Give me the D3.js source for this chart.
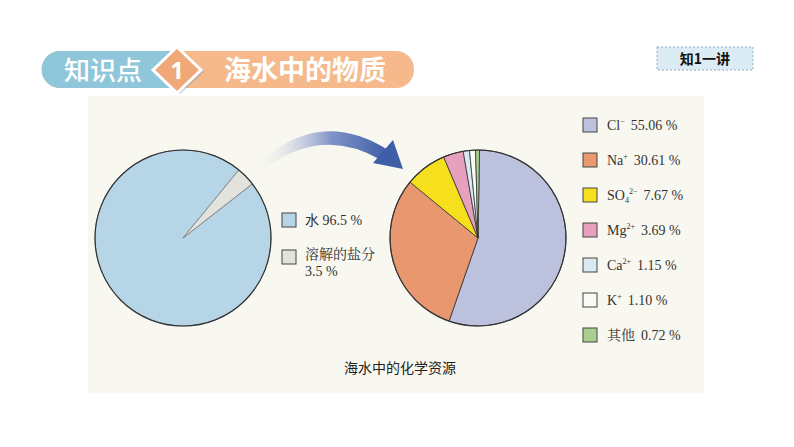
<!DOCTYPE html>
<meta charset="utf-8">
<html>
<head>
  <title>海水中的物质</title>
  <style type="text/css">
    body{margin:0; background:#fff;}
    svg{display:block;}
  </style>
</head>
<body>
  <script src="https://cdn.jsdelivr.net/npm/d3@7"></script>
  <script>
    // left pie: water vs dissolved salts
    var waterNames = ['水', '溶解的盐分'];
    var waterValues = [96.5, 3.5];
    var waterLabels = ['水 96.5 %', '溶解的盐分', '3.5 %'];
    var waterColors = ['#b6d6e8', '#e3e3de'];

    // right pie: ions
    var ionNames = ['Cl', 'Na', 'SO4', 'Mg', 'Ca', 'K', '其他'];
    var ionValues = [55.06, 30.61, 7.67, 3.69, 1.15, 1.10, 0.72];
    var ionColors = ['#bcc2de', '#e9976e', '#f6e01e', '#e7a0bd', '#d9e9f0', '#f9f9f6', '#a9d08f'];

    var width = 794,
        height = 447;

    var svg = d3.select('body')
        .append('svg')
        .attr('width', width)
        .attr('height', height);

    var defs = svg.append('defs');

    // panel
    svg.append('rect')
      .attr('x', 88).attr('y', 96)
      .attr('width', 616).attr('height', 297)
      .style('fill', '#f8f7f0');

    // ---- header ----
    var head = svg.append('g');
    head.append('rect')
      .attr('x', 42).attr('y', 51).attr('width', 372).attr('height', 37).attr('rx', 18)
      .style('fill', '#f5b98c');
    head.append('path')
      .attr('d', 'M60,51 H170 V88 H60 A18,18 0 0 1 60,51 Z')
      .style('fill', '#8fc6d9');
    head.append('path')
      .attr('d', 'M180,50 L204,72 L180,94 L156,72 Z')
      .style('fill', '#9aa0a6').style('opacity', 0.5);
    head.append('path')
      .attr('d', 'M177,47 L201,70 L177,93 L153,70 Z')
      .style('fill', '#f1a878').style('stroke', '#fff').style('stroke-width', 3);
    head.append('text')
      .attr('x', 177).attr('y', 79).attr('text-anchor', 'middle')
      .style('font', 'bold 24px "Noto Sans", sans-serif').style('fill', '#fff')
      .text('1');
    head.append('text')
      .attr('x', 103).attr('y', 80).attr('text-anchor', 'middle')
      .style('font', '500 26px "Noto Sans CJK SC", sans-serif').style('fill', '#fff')
      .text('知识点');
    head.append('text')
      .attr('x', 305).attr('y', 80).attr('text-anchor', 'middle')
      .style('font', 'bold 27px "Noto Sans CJK SC", sans-serif').style('fill', '#fff')
      .text('海水中的物质');

    svg.append('rect')
      .attr('x', 657).attr('y', 47).attr('width', 96).attr('height', 23)
      .style('fill', '#dcecf4').style('stroke', '#9ab').style('stroke-dasharray', '2,2');
    svg.append('text')
      .attr('x', 705).attr('y', 64).attr('text-anchor', 'middle')
      .style('font', 'bold 14px "Noto Sans CJK SC", sans-serif').style('fill', '#111')
      .text('知1一讲');

    // ---- pies ----
    var arc = d3.arc().innerRadius(0).outerRadius(88);

    var leftPie = d3.pie().sort(null)
      .startAngle(52 * Math.PI / 180)
      .endAngle(52 * Math.PI / 180 + 2 * Math.PI);

    var left = svg.append('g').attr('transform', 'translate(183,238)');
    left.selectAll('path')
      .data(leftPie(waterValues))
      .enter().append('path')
      .attr('d', arc)
      .style('fill', function(d, i){ return waterColors[i]; })
      .style('stroke', '#777').style('stroke-width', 0.8);
    left.append('circle').attr('r', 88)
      .style('fill', 'none').style('stroke', '#333').style('stroke-width', 1.2);

    var rightPie = d3.pie().sort(null)
      .startAngle(1 * Math.PI / 180)
      .endAngle(1 * Math.PI / 180 + 2 * Math.PI);

    var right = svg.append('g').attr('transform', 'translate(478,238)');
    right.selectAll('path')
      .data(rightPie(ionValues))
      .enter().append('path')
      .attr('d', arc)
      .style('fill', function(d, i){ return ionColors[i]; })
      .style('stroke', '#333').style('stroke-width', 0.8);
    right.append('circle').attr('r', 88)
      .style('fill', 'none').style('stroke', '#333').style('stroke-width', 1.2);

    // ---- left legend ----
    var serif = '14px "Liberation Serif", "Noto Sans CJK SC", serif';
    var cjkSerif = '14px "Noto Serif CJK SC", "Noto Sans CJK SC", serif';
    var ll = svg.append('g');
    ll.selectAll('rect')
      .data(waterNames)
      .enter().append('rect')
      .attr('x', 282).attr('y', function(d, i){ return 213 + i * 37; })
      .attr('width', 14).attr('height', 14)
      .style('fill', function(d, i){ return waterColors[i]; })
      .style('stroke', '#444');
    ll.selectAll('text')
      .data(waterLabels)
      .enter().append('text')
      .attr('x', 305).attr('y', function(d, i){ return [225, 259, 276][i]; })
      .style('font', function(d, i){ return i == 1 ? cjkSerif : serif; })
      .style('fill', '#333')
      .text(function(d){ return d; });

    // ---- right legend ----
    var rl = svg.append('g');
    var y = d3.scaleBand().domain(ionNames).range([118, 363]);
    rl.selectAll('rect')
      .data(ionNames)
      .enter().append('rect')
      .attr('x', 583).attr('y', function(d){ return y(d); })
      .attr('width', 14).attr('height', 14)
      .style('fill', function(d, i){ return ionColors[i]; })
      .style('stroke', '#444');

    var ionLabel = [
      ['Cl', '−', '55.06 %'],
      ['Na', '+', '30.61 %'],
      ['SO', '2−', '7.67 %'],
      ['Mg', '2+', '3.69 %'],
      ['Ca', '2+', '1.15 %'],
      ['K', '+', '1.10 %'],
      ['其他', '', '0.72 %']
    ];
    var lt = rl.selectAll('text')
      .data(ionLabel)
      .enter().append('text')
      .attr('x', 607).attr('y', function(d, i){ return y(ionNames[i]) + 12; })
      .style('font', serif).style('fill', '#333');
    lt.append('tspan').text(function(d){ return d[0]; })
      .style('font', function(d){ return d[0] == '其他' ? cjkSerif : serif; });
    lt.filter(function(d){ return d[0] == 'SO'; })
      .append('tspan').attr('dy', 3).style('font-size', '8px').text('4');
    lt.append('tspan')
      .attr('dy', function(d){ return d[0] == 'SO' ? -9 : (d[1] ? -6 : 0); })
      .style('font-size', '8px')
      .text(function(d){ return d[1]; });
    lt.append('tspan')
      .attr('dy', function(d){ return d[0] == 'SO' ? 6 : (d[1] ? 6 : 0); })
      .attr('dx', 6)
      .text(function(d){ return d[2]; });

    // ---- caption ----
    svg.append('text')
      .attr('x', 400).attr('y', 373).attr('text-anchor', 'middle')
      .style('font', '14px "Noto Sans CJK SC", sans-serif').style('fill', '#222')
      .text('海水中的化学资源');

    // ---- curved arrow ----
    var grad = defs.append('linearGradient').attr('id', 'arrowGrad')
      .attr('x1', '0%').attr('x2', '100%').attr('y1', '0%').attr('y2', '0%');
    grad.append('stop').attr('offset', '0%').attr('stop-color', '#f4f3ee').attr('stop-opacity', 0.2);
    grad.append('stop').attr('offset', '55%').attr('stop-color', '#7f93c8');
    grad.append('stop').attr('offset', '100%').attr('stop-color', '#3e5ea8');

    svg.append('path')
      .attr('d', 'M262,160 Q322,108 388,150 L381,160 Q322,126 266,168 Z')
      .style('fill', 'url(#arrowGrad)');
    svg.append('path')
      .attr('d', 'M393,140 L403,169 L373,163 Z')
      .style('fill', '#3e5ea8');
  </script>
</body>
</html>
